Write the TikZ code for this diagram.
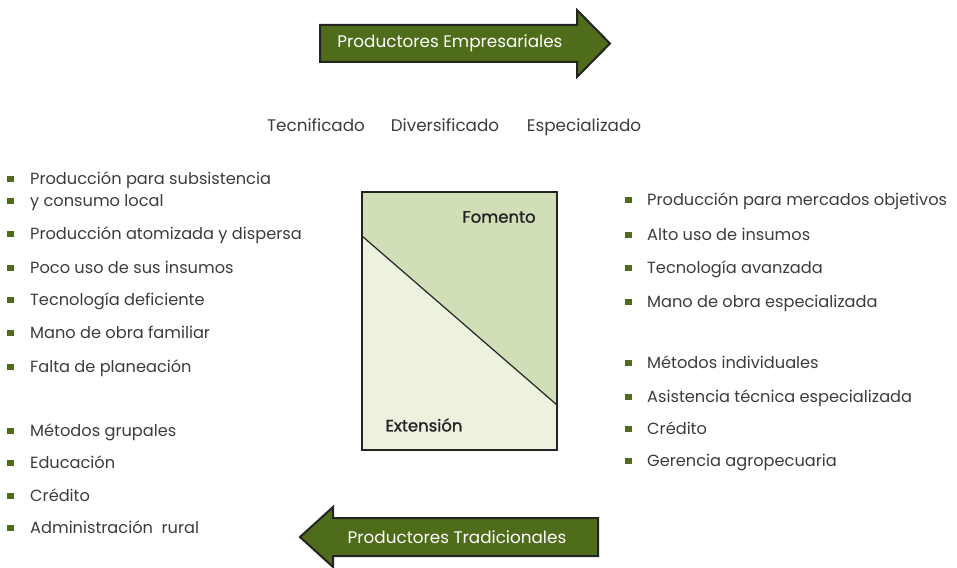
\documentclass[tikz,border=0pt]{standalone}
\usepackage{fontspec}
\setmainfont{Poppins}
\newfontfamily\labelfont{Poppins}[FakeBold=1.2]
\usetikzlibrary{positioning}
\definecolor{color1}{RGB}{79,108,27}
\definecolor{color2}{RGB}{208,223,184}
\definecolor{color3}{RGB}{236,242,222}
\definecolor{color4}{RGB}{60,60,60}
\definecolor{color5}{RGB}{35,35,35}
\tikzset{
  item/.style={anchor=base west, inner sep=0pt, text=color4, font=\fontsize{16.2}{18}\selectfont},
  bullet/.style={fill=color1, minimum width=7pt, minimum height=6.5pt, inner sep=0pt},
  arrowtext/.style={text=white, inner sep=0pt, font=\fontsize{16.8}{18}\selectfont},
  boxlabel/.style={text=color5, inner sep=0pt, font=\labelfont\fontsize{16.5}{18}\selectfont}
}
\begin{document}
\begin{tikzpicture}[x=1pt, y=-1pt, line join=miter]
        \useasboundingbox (0,0) rectangle (957,567);
        %\draw [step=50, very thin, lightgray] (0,0) grid (957,567);
        % arrows
        \filldraw [fill=color1, draw=color5, line width=2pt] (320,25) -- (577,25) -- (577,10) -- (610,43.5) -- (577,77) -- (577,62) -- (320,62) -- cycle;
        \filldraw [fill=color1, draw=color5, line width=2pt] (598,518) -- (333,518) -- (333,507) -- (300,537) -- (333,567) -- (333,556) -- (598,556) -- cycle;
        \node [arrowtext] (emp) at (450,43.5) {Productores Empresariales};
        \node [arrowtext] (trad) at (457,537) {Productores Tradicionales};
        % levels
        \node [item, anchor=base, font=\fontsize{16.8}{18}\selectfont] (tec) at (316,131) {Tecnificado};
        \node [item, anchor=base, font=\fontsize{16.8}{18}\selectfont] (div) at (445,131) {Diversificado};
        \node [item, anchor=base, font=\fontsize{16.8}{18}\selectfont] (esp) at (584,131) {Especializado};
        % box
        \fill [color3] (362,192) rectangle (557,450);
        \fill [color2] (362,236) -- (362,192) -- (557,192) -- (557,405) -- cycle;
        \draw [color5, line width=1.2pt] (362,192) rectangle (557,450);
        \draw [color5, line width=1.2pt] (362,236) -- (557,405);
        \node [boxlabel] (fom) at (499,217) {Fomento};
        \node [boxlabel] (ext) at (424,425) {Extensión};
        % left list
        \foreach \b/\t [count=\i] in {184/{Producción para subsistencia}, 206/{y consumo local},
            239/{Producción atomizada y dispersa}, 273/{Poco uso de sus insumos},
            305/{Tecnología deficiente}, 338/{Mano de obra familiar}, 372/{Falta de planeación},
            436/{Métodos grupales}, 468/{Educación}, 501/{Crédito}, 533/{Administración~ rural}} {
          \node [bullet] (lb\i) at (10.5,\b-5) {};
          \node [item] (lt\i) at (30,\b) {\t};
        }
        % right list
        \foreach \b/\t [count=\i] in {205/{Producción para mercados objetivos}, 240/{Alto uso de insumos},
            273/{Tecnología avanzada}, 307/{Mano de obra especializada},
            368/{Métodos individuales}, 402/{Asistencia técnica especializada},
            434/{Crédito}, 466/{Gerencia agropecuaria}} {
          \node [bullet] (rb\i) at (628,\b-5) {};
          \node [item] (rt\i) at (647,\b) {\t};
        }
\end{tikzpicture}
\end{document}
